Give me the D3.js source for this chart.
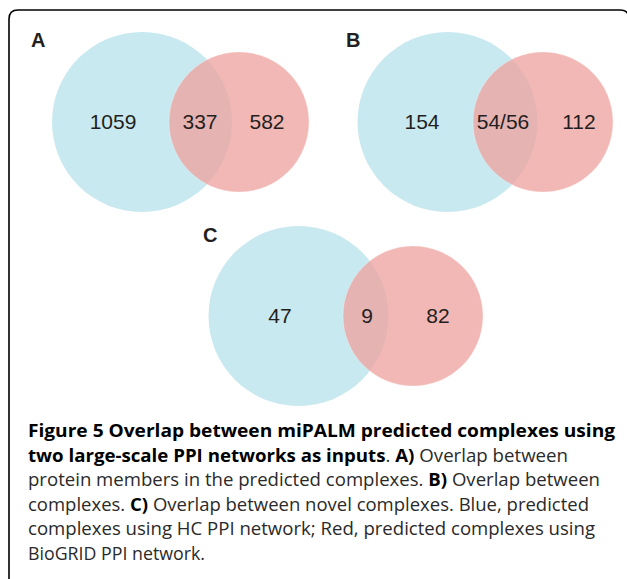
<!DOCTYPE html>
<html>
<head>
<meta charset="utf-8">
<script src="https://cdn.jsdelivr.net/npm/d3@7"></script>
<style>
  body { margin: 0; background: #fff; }
  svg { display: block; }
</style>
</head>
<body>
<div id="chart"></div>
<script>
const WIDTH = 627;
const HEIGHT = 579;

// venn data, one entry per panel
const panels = ['A', 'B', 'C'];
const blueOnly = ['1059', '154', '47'];
const shared = ['337', '54/56', '9'];
const redOnly = ['582', '112', '82'];

// caption lines, [text, bold?] pieces
const captionLines = [
  [['Figure 5 Overlap between miPALM predicted complexes using', true]],
  [['two large-scale PPI networks as inputs', true], ['. ', false], ['A)', true], [' Overlap between', false]],
  [['protein members in the predicted complexes. ', false], ['B)', true], [' Overlap between', false]],
  [['complexes. ', false], ['C)', true], [' Overlap between novel complexes. Blue, predicted', false]],
  [['complexes using HC PPI network; Red, predicted complexes using', false]],
  [['BioGRID PPI network.', false]]
];
const captionWidths = [587, 540, 572, 561, 567, 177];

// layout for each panel (blue centre, red offset, label offsets) in px
const layout = [
  { cx: 142, cy: 122, red: 97, lx: [-29, 58, 125], tag: [31, 47] },
  { cx: 447.5, cy: 122, red: 95.5, lx: [-25.5, 55.5, 131.5], tag: [346, 47] },
  { cx: 298.5, cy: 316, red: 114.5, lx: [-18.5, 68.5, 139.5], tag: [203, 242] }
];
const R_BLUE = 90;
const R_RED = 70;

const svg = d3
  .select('#chart')
  .append('svg')
  .attr('width', WIDTH)
  .attr('height', HEIGHT);

// frame with rounded top corners, open at the bottom
svg
  .append('path')
  .attr('d', 'M9,600 L9,19 Q9,10 18,10 L620,10 Q629,10 629,19 L629,600')
  .attr('fill', 'none')
  .attr('stroke', '#000')
  .attr('stroke-width', 1.6);

panels.forEach((p, i) => {
  const L = layout[i];
  // x scale in "blue radius" units around the blue centre
  const x = d3.scaleLinear().domain([0, 1]).range([L.cx, L.cx + R_BLUE]);
  const g = svg.append('g').attr('class', 'venn');

  g.append('circle')
    .attr('cx', x(0))
    .attr('cy', L.cy)
    .attr('r', R_BLUE)
    .attr('fill', '#c8e9ef');

  g.append('circle')
    .attr('cx', x(L.red / R_BLUE))
    .attr('cy', L.cy)
    .attr('r', R_RED)
    .attr('fill', '#eea4a1')
    .attr('fill-opacity', 0.78)
    .attr('stroke', '#fff')
    .attr('stroke-opacity', 0.35)
    .attr('stroke-width', 0.8);

  const labels = [blueOnly[i], shared[i], redOnly[i]];
  g.selectAll('text.num')
    .data(labels)
    .enter()
    .append('text')
    .attr('class', 'num')
    .attr('x', (d, j) => x(L.lx[j] / R_BLUE))
    .attr('y', L.cy)
    .attr('dy', '0.35em')
    .attr('text-anchor', 'middle')
    .style('font-family', 'Liberation Sans, Arial, sans-serif')
    .style('font-size', '21px')
    .attr('fill', '#231f20')
    .text(d => d);

  svg
    .append('text')
    .attr('x', L.tag[0])
    .attr('y', L.tag[1])
    .style('font-family', 'Liberation Sans, Arial, sans-serif')
    .style('font-weight', 'bold')
    .style('font-size', '20px')
    .attr('fill', '#231f20')
    .text(p);
});

// caption
const cap = svg.append('g').attr('class', 'caption');
captionLines.forEach((line, i) => {
  const t = cap
    .append('text')
    .attr('x', 28)
    .attr('y', 437 + i * 24.5)
    .style('font-family', 'Open Sans, sans-serif')
    .style('font-size', '17.5px');
  line.forEach(piece => {
    t.append('tspan')
      .style('font-weight', piece[1] ? 'bold' : 'normal')
      .attr('fill', piece[1] ? '#000' : '#2a2a2a')
      .text(piece[0]);
  });
  t.attr('textLength', captionWidths[i]).attr('lengthAdjust', 'spacingAndGlyphs');
});
</script>
</body>
</html>
